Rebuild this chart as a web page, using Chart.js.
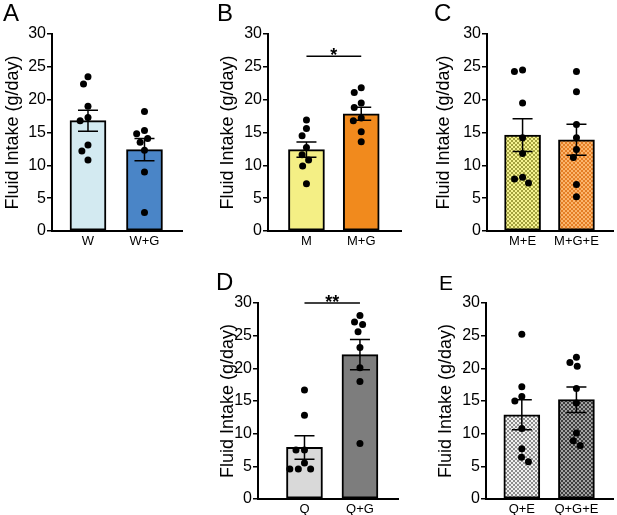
<!DOCTYPE html>
<html>
<head>
<meta charset="utf-8">
<script src="https://cdn.jsdelivr.net/npm/chart.js@4.4.0/dist/chart.umd.min.js"></script>
<style>
  body { margin: 0; background: #fff; width: 617px; height: 515px; position: relative; overflow: hidden; }
  canvas { position: absolute; }
  .letter { position: absolute; font-family: 'Liberation Sans', Arial, sans-serif; font-size: 24px; line-height: 24px; color: #000; }
</style>
</head>
<body>
<script>
// panel letters and group names
var panelLetters = ['A', 'B', 'C', 'D', 'E'];
var groupLabels = [['W', 'W+G'], ['M', 'M+G'], ['M+E', 'M+G+E'], ['Q', 'Q+G'], ['Q+E', 'Q+G+E']];

// bar heights (mean) and SEM
var means = [[16.8, 12.4], [12.4, 17.85], [14.6, 13.9], [7.9, 22.1], [12.9, 15.2]];
var sems = [[1.6, 1.7], [1.15, 1.0], [2.5, 2.35], [1.8, 2.3], [2.3, 1.95]];

// single animals (g/day)
var dotsW = [23.5, 22.4, 19.0, 17.3, 16.8, 13.1, 12.2, 10.8];
var dotsWG = [18.2, 15.3, 14.8, 14.1, 13.5, 12.3, 9.0, 2.8];
var dotsM = [16.9, 15.6, 14.5, 12.7, 11.6, 10.8, 9.9, 7.2];
var dotsMG = [21.8, 21.1, 19.5, 18.8, 17.2, 16.8, 15.1, 13.6];
var dotsME = [24.5, 24.3, 19.5, 14.2, 11.8, 8.2, 7.9, 7.3];
var dotsMGE = [24.3, 21.2, 16.2, 14.2, 12.4, 11.2, 7.1, 5.2];
var dotsQ = [16.7, 12.8, 7.5, 7.5, 5.5, 4.6, 4.6, 4.6];
var dotsQG = [28.1, 27.1, 26.7, 25.6, 23.2, 20.1, 18.0, 8.5];
var dotsQE = [25.2, 17.2, 15.7, 15.0, 10.8, 7.7, 6.4, 5.7];
var dotsQGE = [21.7, 20.9, 20.3, 16.9, 14.7, 10.1, 8.9, 8.2];
var dots = [[dotsW, dotsWG], [dotsM, dotsMG], [dotsME, dotsMGE], [dotsQ, dotsQG], [dotsQE, dotsQGE]];

// significance bars
var sigText = ['', '*', '', '**', ''];
var sigY = [null, 26.6, null, 30, null];

var yTicks = [0, 5, 10, 15, 20, 25, 30];

// where each panel sits on the page (px)
var layout = [
  { left: 0,   top: 0,   width: 205, height: 255, axisX: 52,  plotTop: 34,  plotBottom: 231, plotRight: 182, xMin: 0.363, xMax: 2.664 },
  { left: 215, top: 0,   width: 190, height: 255, axisX: 268, plotTop: 34,  plotBottom: 231, plotRight: 404, xMin: 0.298, xMax: 2.726 },
  { left: 431, top: 0,   width: 186, height: 255, axisX: 487, plotTop: 34,  plotBottom: 231, plotRight: 617, xMin: 0.340, xMax: 2.678 },
  { left: 215, top: 260, width: 190, height: 255, axisX: 258, plotTop: 303, plotBottom: 499, plotRight: 398, xMin: 0.162, xMax: 2.686 },
  { left: 433, top: 260, width: 184, height: 255, axisX: 486, plotTop: 303, plotBottom: 499, plotRight: 617, xMin: 0.344, xMax: 2.670 }
];
var letterPos = [[3, 1, 24], [217, 1, 24], [434, 1, 24], [216, 270, 24], [439, 271, 21]];

var FONT = "'Liberation Sans', Arial, sans-serif";

function makePattern(light, dark) {
  var c = document.createElement('canvas');
  c.width = 4; c.height = 4;
  var g = c.getContext('2d');
  g.fillStyle = light; g.fillRect(0, 0, 4, 4);
  g.fillStyle = dark; g.fillRect(0, 0, 2, 2); g.fillRect(2, 2, 2, 2);
  return g.createPattern(c, 'repeat');
}

var barColors = [
  ['#d3eaf1', '#4a85c7'],
  ['#f4ef85', '#f18a1d'],
  [makePattern('#f5f390', '#a3a13e'), makePattern('#fbb56c', '#e47e25')],
  ['#d9d9d9', '#7d7d7d'],
  [makePattern('#f0f0f0', '#8c8c8c'), makePattern('#a2a2a2', '#3e3e3e')]
];

// spread the dots sideways so they don't sit on top of each other (beeswarm)
function swarm(values, center, xPx, yPx, diam) {
  var sorted = values.slice().sort(function (a, b) { return b - a; });
  var placed = [];
  var out = [];
  for (var i = 0; i < sorted.length; i++) {
    var py = sorted[i] * yPx;
    var bad = [];
    for (var j = 0; j < placed.length; j++) {
      var dy = Math.abs(placed[j].py - py);
      if (dy < diam) {
        var h = Math.sqrt(diam * diam - dy * dy);
        bad.push([placed[j].px - h, placed[j].px + h]);
      }
    }
    var cands = [0];
    bad.forEach(function (b) { cands.push(b[0], b[1]); });
    cands.sort(function (a, b) { return Math.abs(a) - Math.abs(b) || a - b; });
    var px = 0;
    for (var k = 0; k < cands.length; k++) {
      var ok = true;
      for (var m = 0; m < bad.length; m++) {
        if (cands[k] > bad[m][0] + 0.01 && cands[k] < bad[m][1] - 0.01) { ok = false; break; }
      }
      if (ok) { px = cands[k]; break; }
    }
    placed.push({ px: px, py: py });
    out.push({ x: center + px / xPx, y: sorted[i] });
  }
  return out;
}

function drawPanel(p) {
  var L = layout[p];
  var cv = document.createElement('canvas');
  cv.width = L.width; cv.height = L.height;
  cv.style.left = L.left + 'px'; cv.style.top = L.top + 'px';
  document.body.appendChild(cv);

  var letter = document.createElement('div');
  letter.className = 'letter';
  letter.textContent = panelLetters[p];
  letter.style.left = letterPos[p][0] + 'px';
  letter.style.top = letterPos[p][1] + 'px';
  letter.style.fontSize = letterPos[p][2] + 'px';
  document.body.appendChild(letter);

  var xPx = (L.plotRight - L.axisX) / (L.xMax - L.xMin);
  var yPx = (L.plotBottom - L.plotTop) / 30;
  var points = swarm(dots[p][0], 1, xPx, yPx, 8.5).concat(swarm(dots[p][1], 2, xPx, yPx, 8.5));

  var errorBars = {
    id: 'errorBars' + p,
    afterDatasetDraw: function (chart, args) {
      if (args.meta.type !== 'bar') return;
      var ctx = chart.ctx, xs = chart.scales.x, ys = chart.scales.y;
      ctx.save();
      ctx.strokeStyle = '#000';
      ctx.lineWidth = 1.5;
      for (var i = 0; i < 2; i++) {
        var x = xs.getPixelForValue(i + 1);
        var hi = ys.getPixelForValue(means[p][i] + sems[p][i]);
        var lo = ys.getPixelForValue(means[p][i] - sems[p][i]);
        ctx.beginPath();
        ctx.moveTo(x, hi); ctx.lineTo(x, lo);
        ctx.moveTo(x - 10, hi); ctx.lineTo(x + 10, hi);
        ctx.moveTo(x - 10, lo); ctx.lineTo(x + 10, lo);
        ctx.stroke();
      }
      ctx.restore();
    },
    afterDraw: function (chart) {
      if (!sigText[p]) return;
      var ctx = chart.ctx, xs = chart.scales.x, ys = chart.scales.y;
      var x1 = xs.getPixelForValue(1), x2 = xs.getPixelForValue(2);
      var y = ys.getPixelForValue(sigY[p]);
      ctx.save();
      ctx.strokeStyle = '#000';
      ctx.lineWidth = 1.5;
      ctx.beginPath(); ctx.moveTo(x1, y); ctx.lineTo(x2, y); ctx.stroke();
      ctx.fillStyle = '#000';
      ctx.font = 'bold 18px ' + FONT;
      ctx.textAlign = 'center';
      ctx.textBaseline = 'alphabetic';
      ctx.fillText(sigText[p], (x1 + x2) / 2, y + 4.5);
      ctx.restore();
    }
  };

  new Chart(cv, {
    type: 'bar',
    data: {
      datasets: [{
        type: 'bar',
        order: 2,
        data: [{ x: 1, y: means[p][0] }, { x: 2, y: means[p][1] }],
        backgroundColor: barColors[p],
        borderColor: '#000',
        borderWidth: 2,
        borderSkipped: false,
        barThickness: 36
      }, {
        type: 'scatter',
        order: 1,
        data: points,
        pointRadius: 3.5,
        pointBackgroundColor: '#000',
        pointBorderWidth: 0
      }]
    },
    options: {
      responsive: false,
      animation: false,
      events: [],
      layout: { padding: { left: 0, top: L.plotTop - L.top, right: L.left + L.width - L.plotRight, bottom: 0 } },
      plugins: { legend: { display: false }, tooltip: { enabled: false } },
      scales: {
        x: {
          type: 'linear',
          min: L.xMin,
          max: L.xMax,
          offset: false,
          grid: { display: false, drawTicks: false, offset: false },
          border: { display: true, color: '#000', width: 2 },
          afterBuildTicks: function (s) { s.ticks = [{ value: 1 }, { value: 2 }]; },
          afterFit: function (s) { s.height = L.top + L.height - L.plotBottom; },
          ticks: {
            padding: 3,
            color: '#000',
            font: { family: FONT, size: 13 },
            maxRotation: 0,
            autoSkip: false,
            callback: function (v) { return groupLabels[p][Math.round(v) - 1]; }
          }
        },
        y: {
          min: 0,
          max: 30,
          afterBuildTicks: function (s) { s.ticks = yTicks.map(function (v) { return { value: v }; }); },
          afterFit: function (s) { s.width = L.axisX - L.left; },
          grid: { display: true, drawOnChartArea: false, drawTicks: true, tickLength: 5, color: '#000', lineWidth: 1.5 },
          border: { display: true, color: '#000', width: 2 },
          ticks: { padding: 1, color: '#000', font: { family: FONT, size: 16 } },
          title: {
            display: true,
            text: 'Fluid Intake (g/day)',
            color: '#000',
            font: { family: FONT, size: 18 },
            padding: { top: 2, bottom: 0 }
          }
        }
      }
    },
    plugins: [errorBars]
  });
}

for (var p = 0; p < 5; p++) {
  drawPanel(p);
}
</script>
</body>
</html>
